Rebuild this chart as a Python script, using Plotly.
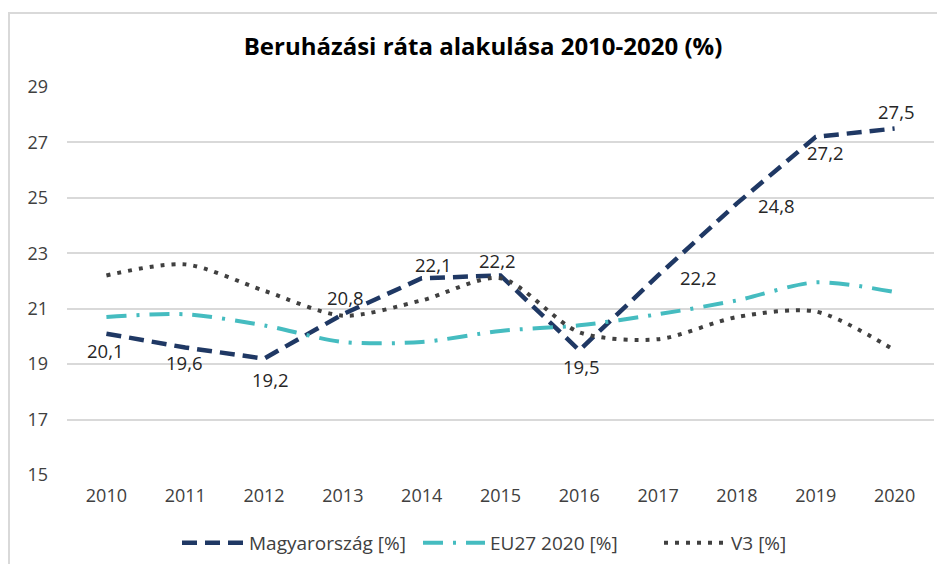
import plotly.graph_objects as go

years = ["2010", "2011", "2012", "2013", "2014", "2015", "2016", "2017", "2018", "2019", "2020"]
hu = [20.1, 19.6, 19.2, 20.8, 22.1, 22.2, 19.5, 22.2, 24.8, 27.2, 27.5]
eu27 = [20.7, 20.8, 20.4, 19.8, 19.8, 20.2, 20.4, 20.8, 21.3, 21.95, 21.6]
v3 = [22.2, 22.6, 21.65, 20.75, 21.3, 22.1, 20.15, 19.9, 20.7, 20.9, 19.5]
hu_labels = [f"{v:.1f}".replace(".", ",") for v in hu]
# label offsets in pixels (right, down) relative to the point
label_dx = [-1, -1, 6, 3, 12, -3, 2, 40, 40, 10, 2]
label_dy = [17, 15, 21, -17, -14, -15, 16, 2, 2, 16, -17]

FONT = "Open Sans"
fig = go.Figure()
fig.add_trace(go.Scatter(
    x=years, y=hu, name="Magyarország [%]", mode="lines",
    line=dict(color="#1F3864", width=4.5, dash="15px,8px"),
))
fig.add_trace(go.Scatter(
    x=years, y=eu27, name="EU27 2020 [%]", mode="lines",
    line=dict(color="#45BCC0", width=4, dash="20px,10px,3px,10px", shape="spline", smoothing=0.8),
))
fig.add_trace(go.Scatter(
    x=years, y=v3, name="V3 [%]", mode="lines",
    line=dict(color="#404040", width=4, dash="4px,7px", shape="spline", smoothing=0.8),
))

annotations = [
    dict(x=i, y=y, xref="x", yref="y", text=t, showarrow=False, xanchor="center", yanchor="middle",
         xshift=dx, yshift=-dy, font=dict(family=FONT, size=18.5, color="#262626"))
    for i, (y, t, dx, dy) in enumerate(zip(hu, hu_labels, label_dx, label_dy))
]

W, H = 937, 556
fig.update_layout(
    width=W, height=H,
    paper_bgcolor="white", plot_bgcolor="white",
    margin=dict(l=59, r=11, t=79, b=89, autoexpand=False),
    title=dict(text="<b>Beruházási ráta alakulása 2010-2020 (%)</b>", x=475 / W, xanchor="center",
               y=1 - 39 / H, yanchor="middle",
               font=dict(family=FONT, size=24, color="#000000")),
    xaxis=dict(type="category", categoryorder="array", categoryarray=years, range=[-0.5, 10.5],
               showgrid=False, showline=False, zeroline=False, automargin=False,
               tickfont=dict(family=FONT, size=18, color="#404040"), ticks="", ticklabelstandoff=8),
    yaxis=dict(range=[15, 29], dtick=2, tick0=15, showgrid=True, gridcolor="#D9D9D9", gridwidth=1.5,
               zeroline=False, showline=False, ticks="", automargin=False,
               tickfont=dict(family=FONT, size=18, color="#404040"), ticklabelstandoff=18),
    legend=dict(orientation="h", x=(169 - 59) / 867, xanchor="left", y=-0.175, yanchor="middle",
                font=dict(family=FONT, size=19, color="#404040"), itemwidth=62,
                entrywidth=164, entrywidthmode="pixels"),
    showlegend=True,
    annotations=annotations,
    shapes=[dict(type="rect", xref="paper", yref="paper",
                 x0=(1 - 59) / 867, x1=1.05, y0=-0.4, y1=(467 - 5) / 388,
                 line=dict(color="#D9D9D9", width=2), layer="below")],
)
fig.write_html("out.html")
